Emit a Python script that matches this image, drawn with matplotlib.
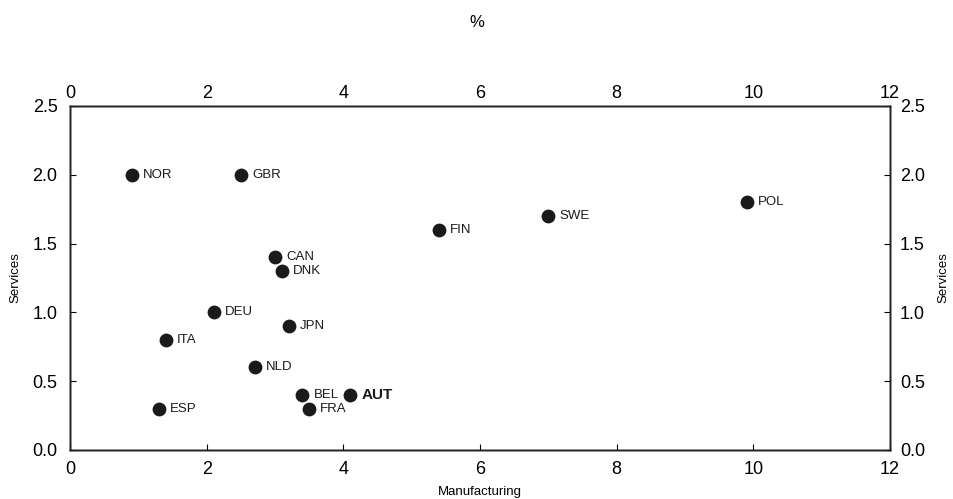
import numpy as np
import matplotlib.pyplot as plt
from matplotlib.ticker import FormatStrFormatter

# productivity growth, % (manufacturing vs services)
countries = ['NOR', 'GBR', 'CAN', 'DNK', 'DEU', 'JPN', 'ITA', 'NLD',
             'BEL', 'AUT', 'FRA', 'ESP', 'FIN', 'SWE', 'POL']
manufacturing = [0.9, 2.5, 3.0, 3.1, 2.1, 3.2, 1.4, 2.7,
                 3.4, 4.1, 3.5, 1.3, 5.4, 7.0, 9.9]
services = [2.0, 2.0, 1.4, 1.3, 1.0, 0.9, 0.8, 0.6,
            0.4, 0.4, 0.3, 0.3, 1.6, 1.7, 1.8]

x_ticks = [0, 2, 4, 6, 8, 10, 12]
y_ticks = [0.0, 0.5, 1.0, 1.5, 2.0, 2.5]

plt.rcParams['font.family'] = ['Liberation Sans', 'DejaVu Sans']

fig = plt.figure(figsize=(9.54, 4.99), dpi=100)
ax = fig.add_axes([0.0734, 0.0982, 0.8596, 0.6894])

ax.scatter(manufacturing, services, s=80, color='#1a1a1a', zorder=3)
for name, xv, yv in zip(countries, manufacturing, services):
    bold = name == 'AUT'
    ax.annotate(name, (xv, yv), xytext=(8, 0), textcoords='offset points',
                va='center', ha='left',
                fontsize=11 if bold else 9.5,
                fontweight='bold' if bold else 'normal', color='#1a1a1a')

ax.set_xlim(0, 12)
ax.set_ylim(0, 2.5)
ax.set_xticks(x_ticks)
ax.set_yticks(y_ticks)
ax.yaxis.set_major_formatter(FormatStrFormatter('%.1f'))
ax.tick_params(axis='x', direction='in', length=4, labelsize=13, pad=8)
ax.tick_params(axis='y', direction='in', length=4, labelsize=13, pad=9)
ax.set_xlabel('Manufacturing', fontsize=9.5, labelpad=5.5)
ax.set_ylabel('Services', fontsize=9.5, labelpad=8)

ax_top = ax.twiny()
ax_top.set_xlim(ax.get_xlim())
ax_top.set_xticks(x_ticks)
ax_top.tick_params(axis='x', length=0, labelsize=13, pad=3)

ax_right = ax.twinx()
ax_right.set_ylim(ax.get_ylim())
ax_right.set_yticks(y_ticks)
ax_right.yaxis.set_major_formatter(FormatStrFormatter('%.1f'))
ax_right.tick_params(axis='y', direction='in', length=4, labelsize=13, pad=7)
ax_right.set_ylabel('Services', fontsize=9.5, rotation=90, labelpad=9)

for a in (ax, ax_top, ax_right):
    for sp in a.spines.values():
        sp.set_linewidth(1.0)
        sp.set_color('#222222')

fig.text(0.5, 0.955, '%', ha='center', va='center', fontsize=12)

fig.savefig('out.png', dpi=100)
